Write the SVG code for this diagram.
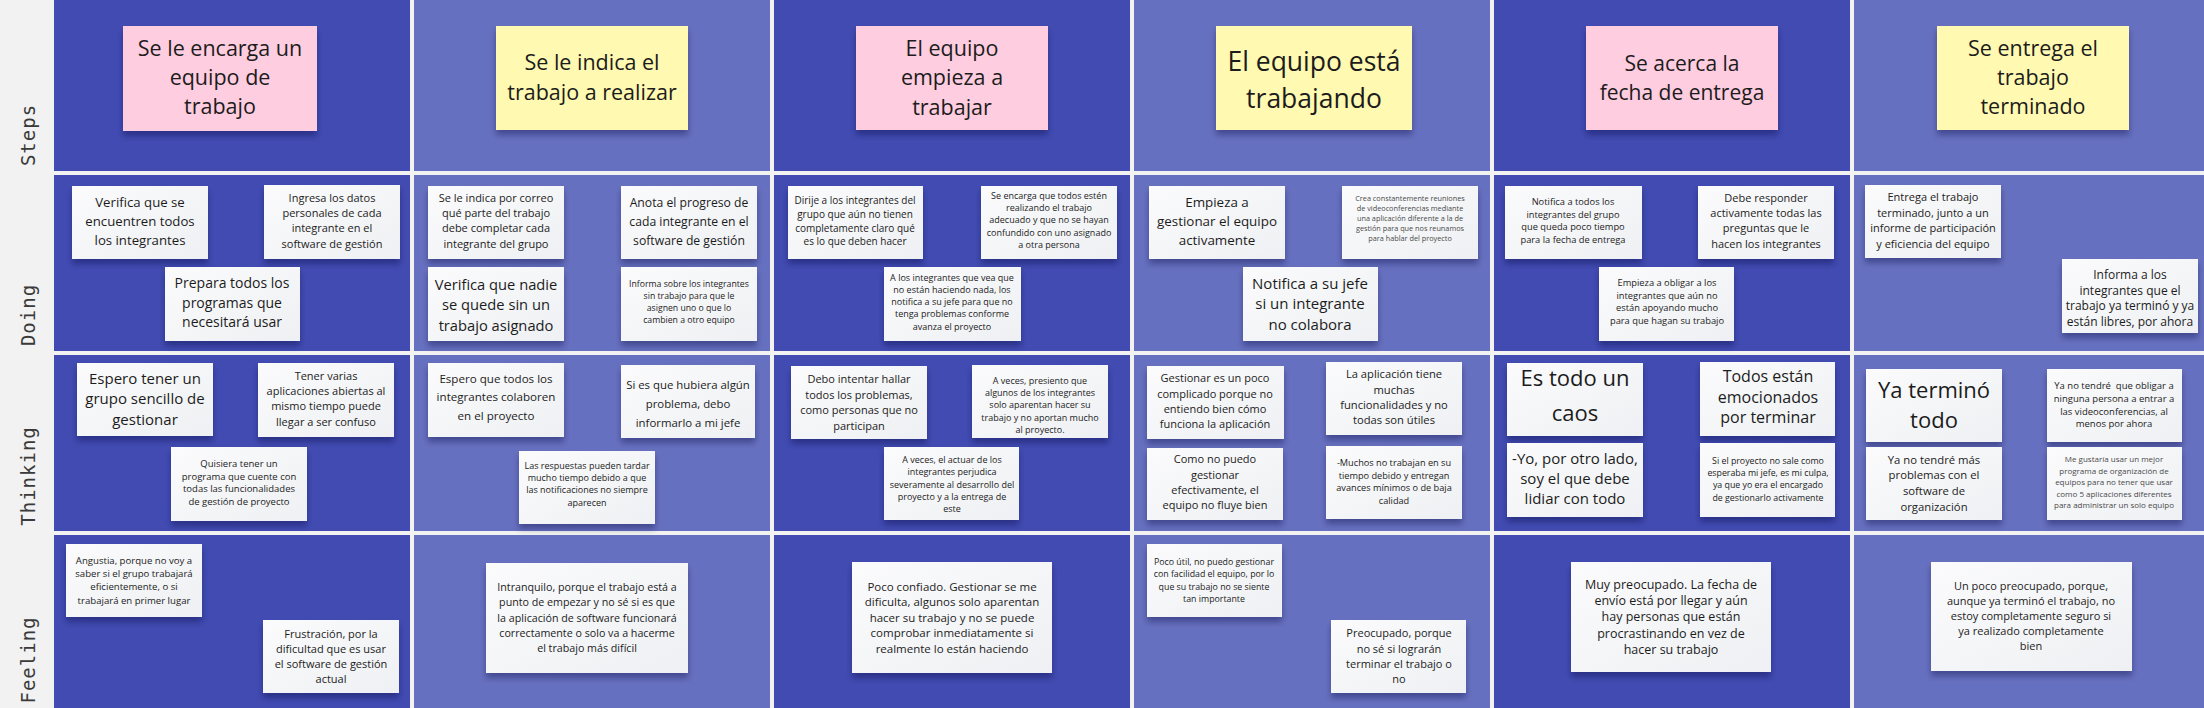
<svg xmlns="http://www.w3.org/2000/svg" width="2204" height="708" viewBox="0 0 2204 708">
<defs>
<filter id="sh" x="-10%" y="-10%" width="120%" height="135%">
<feDropShadow dx="0" dy="5" stdDeviation="3" flood-color="#101030" flood-opacity="0.35"/>
</filter>
<linearGradient id="wg" x1="0" y1="0" x2="1" y2="1">
<stop offset="0" stop-color="#fbfbfc"/>
<stop offset="1" stop-color="#eef0f3"/>
</linearGradient>
</defs>
<style>
.bg{fill:#f2f2f2}
.dk{fill:#414bb2}
.lt{fill:#6670c0}
.w{fill:url(#wg);filter:url(#sh)}
.p{fill:#ffcde0;filter:url(#sh)}
.y{fill:#fff9b1;filter:url(#sh)}
.t{font-family:"Open Sans","Liberation Sans",sans-serif;text-anchor:middle;fill:#1c1c1c}
.g{fill:#4a4a4a}
.lab{font-family:"DejaVu Sans Mono","Liberation Mono",monospace;font-size:19px;fill:#3a3a3a;text-anchor:middle;letter-spacing:1px}
</style>
<rect class="bg" x="0" y="0" width="2204" height="708"/>
<g id="grid">
<rect class="dk" x="54" y="0" width="356" height="171"/><rect class="lt" x="414" y="0" width="356" height="171"/><rect class="dk" x="774" y="0" width="356" height="171"/><rect class="lt" x="1134" y="0" width="356" height="171"/><rect class="dk" x="1494" y="0" width="356" height="171"/><rect class="lt" x="1854" y="0" width="350" height="171"/>
<rect class="dk" x="54" y="175" width="356" height="176"/><rect class="lt" x="414" y="175" width="356" height="176"/><rect class="dk" x="774" y="175" width="356" height="176"/><rect class="lt" x="1134" y="175" width="356" height="176"/><rect class="dk" x="1494" y="175" width="356" height="176"/><rect class="lt" x="1854" y="175" width="350" height="176"/>
<rect class="dk" x="54" y="355" width="356" height="176"/><rect class="lt" x="414" y="355" width="356" height="176"/><rect class="dk" x="774" y="355" width="356" height="176"/><rect class="lt" x="1134" y="355" width="356" height="176"/><rect class="dk" x="1494" y="355" width="356" height="176"/><rect class="lt" x="1854" y="355" width="350" height="176"/>
<rect class="dk" x="54" y="535" width="356" height="173"/><rect class="lt" x="414" y="535" width="356" height="173"/><rect class="dk" x="774" y="535" width="356" height="173"/><rect class="lt" x="1134" y="535" width="356" height="173"/><rect class="dk" x="1494" y="535" width="356" height="173"/><rect class="lt" x="1854" y="535" width="350" height="173"/>
</g>
<g id="labels">
<text class="lab" transform="translate(35,135) rotate(-90)">Steps</text>
<text class="lab" transform="translate(35,315) rotate(-90)">Doing</text>
<text class="lab" transform="translate(35,476) rotate(-90)">Thinking</text>
<text class="lab" transform="translate(35,660) rotate(-90)">Feeling</text>
</g>
<g id="connectors"></g>

<g id="step-1"><rect class="p" x="123" y="26" width="194" height="105"/><text class="t" font-size="21.5" x="220" y="56"><tspan x="220">Se le encarga un</tspan><tspan x="220" dy="29">equipo de</tspan><tspan x="220" dy="29">trabajo</tspan></text></g>
<g id="step-2"><rect class="y" x="496" y="26" width="192" height="104"/><text class="t" font-size="21.5" x="592" y="69.5"><tspan x="592">Se le indica el</tspan><tspan x="592" dy="30">trabajo a realizar</tspan></text></g>
<g id="step-3"><rect class="p" x="856" y="26" width="192" height="104"/><text class="t" font-size="21.5" x="952" y="55.5"><tspan x="952">El equipo</tspan><tspan x="952" dy="29.5">empieza a</tspan><tspan x="952" dy="29.5">trabajar</tspan></text></g>
<g id="step-4"><rect class="y" x="1216" y="26" width="196" height="104"/><text class="t" font-size="26.5" x="1314" y="71"><tspan x="1314">El equipo está</tspan><tspan x="1314" dy="37">trabajando</tspan></text></g>
<g id="step-5"><rect class="p" x="1586" y="26" width="192" height="104"/><text class="t" font-size="21" x="1682" y="71"><tspan x="1682">Se acerca la</tspan><tspan x="1682" dy="29">fecha de entrega</tspan></text></g>
<g id="step-6"><rect class="y" x="1937" y="26" width="192" height="104"/><text class="t" font-size="21.5" x="2033" y="55.5"><tspan x="2033">Se entrega el</tspan><tspan x="2033" dy="29">trabajo</tspan><tspan x="2033" dy="29">terminado</tspan></text></g>

<g id="doing-1a"><rect class="w" x="72" y="186" width="136" height="73"/><text class="t" font-size="13.2" x="140" y="207"><tspan x="140">Verifica que se</tspan><tspan x="140" dy="19">encuentren todos</tspan><tspan x="140" dy="19">los integrantes</tspan></text></g>
<g id="doing-1b"><rect class="w" x="264" y="185" width="136" height="74"/><text class="t" font-size="11" x="332" y="201.5"><tspan x="332">Ingresa los datos</tspan><tspan x="332" dy="15.4">personales de cada</tspan><tspan x="332" dy="15.4">integrante en el</tspan><tspan x="332" dy="15.4">software de gestión</tspan></text></g>
<g id="doing-1c"><rect class="w" x="165" y="267" width="135" height="74"/><text class="t" font-size="14" x="232" y="288"><tspan x="232">Prepara todos los</tspan><tspan x="232" dy="19.5">programas que</tspan><tspan x="232" dy="19.5">necesitará usar</tspan></text></g>
<g id="think-1a"><rect class="w" x="77" y="363" width="136" height="73"/><text class="t" font-size="15" x="145" y="383.5"><tspan x="145">Espero tener un</tspan><tspan x="145" dy="20.5">grupo sencillo de</tspan><tspan x="145" dy="20.5">gestionar</tspan></text></g>
<g id="think-1b"><rect class="w" x="258" y="363" width="136" height="74"/><text class="t" font-size="11" x="326" y="379.5"><tspan x="326">Tener varias</tspan><tspan x="326" dy="15.4">aplicaciones abiertas al</tspan><tspan x="326" dy="15.4">mismo tiempo puede</tspan><tspan x="326" dy="15.4">llegar a ser confuso</tspan></text></g>
<g id="think-1c"><rect class="w" x="171" y="447" width="136" height="74"/><text class="t" font-size="9.5" x="239" y="467"><tspan x="239">Quisiera tener un</tspan><tspan x="239" dy="12.5">programa que cuente con</tspan><tspan x="239" dy="12.5">todas las funcionalidades</tspan><tspan x="239" dy="12.5">de gestión de proyecto</tspan></text></g>
<g id="feel-1a"><rect class="w" x="66" y="544" width="136" height="73"/><text class="t" font-size="9.6" x="134" y="564"><tspan x="134">Angustia, porque no voy a</tspan><tspan x="134" dy="13.2">saber si el grupo trabajará</tspan><tspan x="134" dy="13.2">eficientemente, o si</tspan><tspan x="134" dy="13.2">trabajará en primer lugar</tspan></text></g>
<g id="feel-1b"><rect class="w" x="263" y="620" width="136" height="73"/><text class="t" font-size="11" x="331" y="637.5"><tspan x="331">Frustración, por la</tspan><tspan x="331" dy="15.2">dificultad que es usar</tspan><tspan x="331" dy="15.2">el software de gestión</tspan><tspan x="331" dy="15.2">actual</tspan></text></g>

<g id="doing-2a"><rect class="w" x="428" y="186" width="136" height="73"/><text class="t" font-size="11" x="496" y="201.5"><tspan x="496">Se le indica por correo</tspan><tspan x="496" dy="15.4">qué parte del trabajo</tspan><tspan x="496" dy="15.4">debe completar cada</tspan><tspan x="496" dy="15.4">integrante del grupo</tspan></text></g>
<g id="doing-2b"><rect class="w" x="621" y="186" width="136" height="73"/><text class="t" font-size="12.2" x="689" y="207"><tspan x="689">Anota el progreso de</tspan><tspan x="689" dy="19">cada integrante en el</tspan><tspan x="689" dy="19">software de gestión</tspan></text></g>
<g id="doing-2c"><rect class="w" x="428" y="267" width="136" height="74"/><text class="t" font-size="14.7" x="496" y="289.5"><tspan x="496">Verifica que nadie</tspan><tspan x="496" dy="20.5">se quede sin un</tspan><tspan x="496" dy="20.5">trabajo asignado</tspan></text></g>
<g id="doing-2d"><rect class="w" x="621" y="267" width="136" height="74"/><text class="t" font-size="8.7" x="689" y="286.5"><tspan x="689">Informa sobre los integrantes</tspan><tspan x="689" dy="12.2">sin trabajo para que le</tspan><tspan x="689" dy="12.2">asignen uno o que lo</tspan><tspan x="689" dy="12.2">cambien a otro equipo</tspan></text></g>
<g id="think-2a"><rect class="w" x="428" y="363" width="136" height="74"/><text class="t" font-size="11.6" x="496" y="382.5"><tspan x="496">Espero que todos los</tspan><tspan x="496" dy="18.5">integrantes colaboren</tspan><tspan x="496" dy="18.5">en el proyecto</tspan></text></g>
<g id="think-2b"><rect class="w" x="621" y="365" width="134" height="73"/><text class="t" font-size="11.4" x="688" y="388.5"><tspan x="688">Si es que hubiera algún</tspan><tspan x="688" dy="19.2">problema, debo</tspan><tspan x="688" dy="19.2">informarlo a mi jefe</tspan></text></g>
<g id="think-2c"><rect class="w" x="519" y="451" width="136" height="73"/><text class="t" font-size="9" x="587" y="468.7"><tspan x="587">Las respuestas pueden tardar</tspan><tspan x="587" dy="12.3">mucho tiempo debido a que</tspan><tspan x="587" dy="12.3">las notificaciones no siempre</tspan><tspan x="587" dy="12.3">aparecen</tspan></text></g>
<g id="feel-2"><rect class="w" x="486" y="563" width="202" height="110"/><text class="t" font-size="10.7" x="587" y="591"><tspan x="587">Intranquilo, porque el trabajo está a</tspan><tspan x="587" dy="15.3">punto de empezar y no sé si es que</tspan><tspan x="587" dy="15.3">la aplicación de software funcionará</tspan><tspan x="587" dy="15.3">correctamente o solo va a hacerme</tspan><tspan x="587" dy="15.3">el trabajo más difícil</tspan></text></g>

<g id="doing-3a"><rect class="w" x="788" y="186" width="135" height="73"/><text class="t" font-size="10" x="855" y="204"><tspan x="855">Dirije a los integrantes del</tspan><tspan x="855" dy="13.8">grupo que aún no tienen</tspan><tspan x="855" dy="13.8">completamente claro qué</tspan><tspan x="855" dy="13.8">es lo que deben hacer</tspan></text></g>
<g id="doing-3b"><rect class="w" x="981" y="186" width="136" height="73"/><text class="t" font-size="9" x="1049" y="198.7"><tspan x="1049">Se encarga que todos estén</tspan><tspan x="1049" dy="12.3">realizando el trabajo</tspan><tspan x="1049" dy="12.3">adecuado y que no se hayan</tspan><tspan x="1049" dy="12.3">confundido con uno asignado</tspan><tspan x="1049" dy="12.3">a otra persona</tspan></text></g>
<g id="doing-3c"><rect class="w" x="884" y="267" width="137" height="74"/><text class="t" font-size="9" x="952" y="280.7"><tspan x="952">A los integrantes que vea que</tspan><tspan x="952" dy="12.2">no están haciendo nada, los</tspan><tspan x="952" dy="12.2">notifica a su jefe para que no</tspan><tspan x="952" dy="12.2">tenga problemas conforme</tspan><tspan x="952" dy="12.2">avanza el proyecto</tspan></text></g>
<g id="think-3a"><rect class="w" x="791" y="366" width="136" height="73"/><text class="t" font-size="11" x="859" y="383.3"><tspan x="859">Debo intentar hallar</tspan><tspan x="859" dy="15.4">todos los problemas,</tspan><tspan x="859" dy="15.4">como personas que no</tspan><tspan x="859" dy="15.4">participan</tspan></text></g>
<g id="think-3b"><rect class="w" x="972" y="365" width="136" height="73"/><text class="t" font-size="9" x="1040" y="383.7"><tspan x="1040">A veces, presiento que</tspan><tspan x="1040" dy="12.3">algunos de los integrantes</tspan><tspan x="1040" dy="12.3">solo aparentan hacer su</tspan><tspan x="1040" dy="12.3">trabajo y no aportan mucho</tspan><tspan x="1040" dy="12.3">al proyecto.</tspan></text></g>
<g id="think-3c"><rect class="w" x="884" y="447" width="135" height="73"/><text class="t" font-size="9" x="952" y="462.7"><tspan x="952">A veces, el actuar de los</tspan><tspan x="952" dy="12.4">integrantes perjudica</tspan><tspan x="952" dy="12.4">severamente al desarrollo del</tspan><tspan x="952" dy="12.4">proyecto y a la entrega de</tspan><tspan x="952" dy="12.4">este</tspan></text></g>
<g id="feel-3"><rect class="w" x="852" y="562" width="200" height="111"/><text class="t" font-size="11.5" x="952" y="590.5"><tspan x="952">Poco confiado. Gestionar se me</tspan><tspan x="952" dy="15.5">dificulta, algunos solo aparentan</tspan><tspan x="952" dy="15.5">hacer su trabajo y no se puede</tspan><tspan x="952" dy="15.5">comprobar inmediatamente si</tspan><tspan x="952" dy="15.5">realmente lo están haciendo</tspan></text></g>

<g id="doing-4a"><rect class="w" x="1149" y="186" width="136" height="73"/><text class="t" font-size="13.4" x="1217" y="207"><tspan x="1217">Empieza a</tspan><tspan x="1217" dy="19">gestionar el equipo</tspan><tspan x="1217" dy="19">activamente</tspan></text></g>
<g id="doing-4b"><rect class="w" x="1342" y="186" width="136" height="73"/><text class="t g" font-size="7.3" x="1410" y="201.2"><tspan x="1410">Crea constantemente reuniones</tspan><tspan x="1410" dy="10">de videoconferencias mediante</tspan><tspan x="1410" dy="10">una aplicación diferente a la de</tspan><tspan x="1410" dy="10">gestión para que nos reunamos</tspan><tspan x="1410" dy="10">para hablar del proyecto</tspan></text></g>
<g id="doing-4c"><rect class="w" x="1243" y="267" width="135" height="74"/><text class="t" font-size="15" x="1310" y="288.5"><tspan x="1310">Notifica a su jefe</tspan><tspan x="1310" dy="20.7">si un integrante</tspan><tspan x="1310" dy="20.7">no colabora</tspan></text></g>
<g id="think-4a"><rect class="w" x="1147" y="366" width="137" height="73"/><text class="t" font-size="11" x="1215" y="382.3"><tspan x="1215">Gestionar es un poco</tspan><tspan x="1215" dy="15.2">complicado porque no</tspan><tspan x="1215" dy="15.2">entiendo bien cómo</tspan><tspan x="1215" dy="15.2">funciona la aplicación</tspan></text></g>
<g id="think-4b"><rect class="w" x="1326" y="362" width="136" height="73"/><text class="t" font-size="11.2" x="1394" y="378.4"><tspan x="1394">La aplicación tiene</tspan><tspan x="1394" dy="15.3">muchas</tspan><tspan x="1394" dy="15.3">funcionalidades y no</tspan><tspan x="1394" dy="15.3">todas son útiles</tspan></text></g>
<g id="think-4c"><rect class="w" x="1147" y="448" width="136" height="72"/><text class="t" font-size="11" x="1215" y="463.3"><tspan x="1215">Como no puedo</tspan><tspan x="1215" dy="15.3">gestionar</tspan><tspan x="1215" dy="15.3">efectivamente, el</tspan><tspan x="1215" dy="15.3">equipo no fluye bien</tspan></text></g>
<g id="think-4d"><rect class="w" x="1326" y="446" width="136" height="73"/><text class="t" font-size="9.2" x="1394" y="465.8"><tspan x="1394">-Muchos no trabajan en su</tspan><tspan x="1394" dy="12.7">tiempo debido y entregan</tspan><tspan x="1394" dy="12.7">avances mínimos o de baja</tspan><tspan x="1394" dy="12.7">calidad</tspan></text></g>
<g id="feel-4a"><rect class="w" x="1147" y="544" width="135" height="73"/><text class="t" font-size="8.8" x="1214" y="565"><tspan x="1214">Poco útil, no puedo gestionar</tspan><tspan x="1214" dy="12.3">con facilidad el equipo, por lo</tspan><tspan x="1214" dy="12.3">que su trabajo no se siente</tspan><tspan x="1214" dy="12.3">tan importante</tspan></text></g>
<g id="feel-4b"><rect class="w" x="1331" y="620" width="135" height="73"/><text class="t" font-size="11" x="1399" y="637.4"><tspan x="1399">Preocupado, porque</tspan><tspan x="1399" dy="15.3">no sé si lograrán</tspan><tspan x="1399" dy="15.3">terminar el trabajo o</tspan><tspan x="1399" dy="15.3">no</tspan></text></g>

<g id="doing-5a"><rect class="w" x="1505" y="186" width="137" height="73"/><text class="t" font-size="9.3" x="1573" y="204.8"><tspan x="1573">Notifica a todos los</tspan><tspan x="1573" dy="12.8">integrantes del grupo</tspan><tspan x="1573" dy="12.8">que queda poco tiempo</tspan><tspan x="1573" dy="12.8">para la fecha de entrega</tspan></text></g>
<g id="doing-5b"><rect class="w" x="1698" y="186" width="136" height="73"/><text class="t" font-size="11" x="1766" y="201.5"><tspan x="1766">Debe responder</tspan><tspan x="1766" dy="15.4">activamente todas las</tspan><tspan x="1766" dy="15.4">preguntas que le</tspan><tspan x="1766" dy="15.4">hacen los integrantes</tspan></text></g>
<g id="doing-5c"><rect class="w" x="1599" y="267" width="135" height="74"/><text class="t" font-size="9.3" x="1667" y="285.8"><tspan x="1667">Empieza a obligar a los</tspan><tspan x="1667" dy="12.8">integrantes que aún no</tspan><tspan x="1667" dy="12.8">están apoyando mucho</tspan><tspan x="1667" dy="12.8">para que hagan su trabajo</tspan></text></g>
<g id="think-5a"><rect class="w" x="1507" y="363" width="136" height="73"/><text class="t" font-size="22" x="1575" y="386"><tspan x="1575">Es todo un</tspan><tspan x="1575" dy="35">caos</tspan></text></g>
<g id="think-5b"><rect class="w" x="1700" y="362" width="135" height="74"/><text class="t" font-size="16" x="1768" y="382"><tspan x="1768">Todos están</tspan><tspan x="1768" dy="20.7">emocionados</tspan><tspan x="1768" dy="20.7">por terminar</tspan></text></g>
<g id="think-5c"><rect class="w" x="1507" y="443" width="136" height="74"/><text class="t" font-size="15" x="1575" y="463.5"><tspan x="1575">-Yo, por otro lado,</tspan><tspan x="1575" dy="20">soy el que debe</tspan><tspan x="1575" dy="20">lidiar con todo</tspan></text></g>
<g id="think-5d"><rect class="w" x="1700" y="443" width="135" height="74"/><text class="t" font-size="8.8" x="1768" y="463.6"><tspan x="1768">Si el proyecto no sale como</tspan><tspan x="1768" dy="12.4">esperaba mi jefe, es mi culpa,</tspan><tspan x="1768" dy="12.4">ya que yo era el encargado</tspan><tspan x="1768" dy="12.4">de gestionarlo activamente</tspan></text></g>
<g id="feel-5"><rect class="w" x="1571" y="562" width="200" height="110"/><text class="t" font-size="12.5" x="1671" y="589"><tspan x="1671">Muy preocupado. La fecha de</tspan><tspan x="1671" dy="16.2">envío está por llegar y aún</tspan><tspan x="1671" dy="16.2">hay personas que están</tspan><tspan x="1671" dy="16.2">procrastinando en vez de</tspan><tspan x="1671" dy="16.2">hacer su trabajo</tspan></text></g>

<g id="doing-6a"><rect class="w" x="1865" y="185" width="136" height="73"/><text class="t" font-size="11" x="1933" y="201.3"><tspan x="1933">Entrega el trabajo</tspan><tspan x="1933" dy="15.4">terminado, junto a un</tspan><tspan x="1933" dy="15.4">informe de participación</tspan><tspan x="1933" dy="15.4">y eficiencia del equipo</tspan></text></g>
<g id="doing-6b"><rect class="w" x="2062" y="259" width="136" height="74"/><text class="t" font-size="12" x="2130" y="279"><tspan x="2130">Informa a los</tspan><tspan x="2130" dy="15.5">integrantes que el</tspan><tspan x="2130" dy="15.5">trabajo ya terminó y ya</tspan><tspan x="2130" dy="15.5">están libres, por ahora</tspan></text></g>
<g id="think-6a"><rect class="w" x="1866" y="369" width="136" height="73"/><text class="t" font-size="22" x="1934" y="398"><tspan x="1934">Ya terminó</tspan><tspan x="1934" dy="30">todo</tspan></text></g>
<g id="think-6b"><rect class="w" x="2047" y="369" width="135" height="73"/><text class="t" font-size="9.5" x="2114" y="388.9"><tspan x="2114">Ya no tendré&#160; que obligar a</tspan><tspan x="2114" dy="12.8">ninguna persona a entrar a</tspan><tspan x="2114" dy="12.8">las videoconferencias, al</tspan><tspan x="2114" dy="12.8">menos por ahora</tspan></text></g>
<g id="think-6c"><rect class="w" x="1866" y="447" width="136" height="73"/><text class="t" font-size="11.3" x="1934" y="463.5"><tspan x="1934">Ya no tendré más</tspan><tspan x="1934" dy="15.7">problemas con el</tspan><tspan x="1934" dy="15.7">software de</tspan><tspan x="1934" dy="15.7">organización</tspan></text></g>
<g id="think-6d"><rect class="w" x="2047" y="447" width="135" height="73"/><text class="t g" font-size="8" x="2114" y="462.4"><tspan x="2114">Me gustaría usar un mejor</tspan><tspan x="2114" dy="11.4">programa de organización de</tspan><tspan x="2114" dy="11.4">equipos para no tener que usar</tspan><tspan x="2114" dy="11.4">como 5 aplicaciones diferentes</tspan><tspan x="2114" dy="11.4">para administrar un solo equipo</tspan></text></g>
<g id="feel-6"><rect class="w" x="1931" y="562" width="201" height="109"/><text class="t" font-size="11" x="2031" y="590.3"><tspan x="2031">Un poco preocupado, porque,</tspan><tspan x="2031" dy="15">aunque ya terminó el trabajo, no</tspan><tspan x="2031" dy="15">estoy completamente seguro si</tspan><tspan x="2031" dy="15">ya realizado completamente</tspan><tspan x="2031" dy="15">bien</tspan></text></g>
</svg>
